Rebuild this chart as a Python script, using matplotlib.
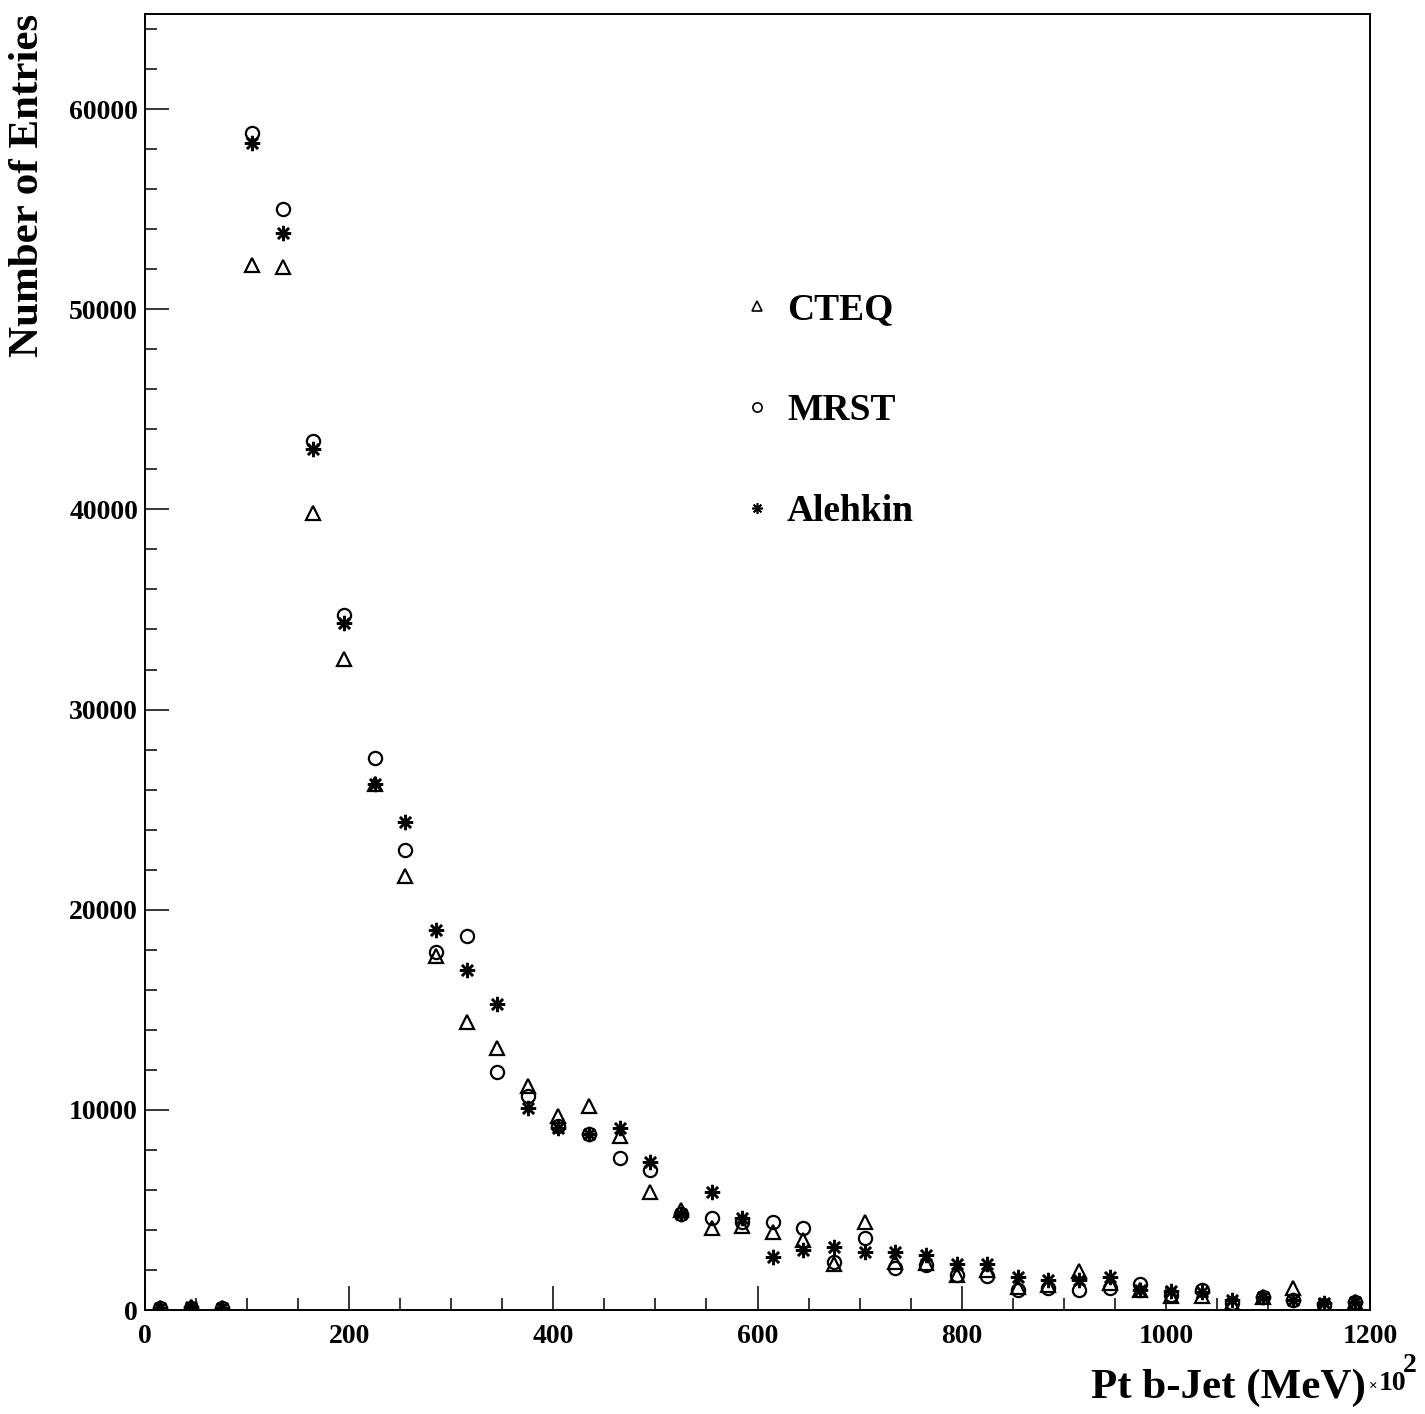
import matplotlib.pyplot as plt
from matplotlib.ticker import MultipleLocator

# Bin centres of the Pt histogram (x 10^2 MeV)
pt_bins = [15, 45, 75, 105, 135, 165, 195, 225, 255, 285,
           315, 345, 375, 405, 435, 465, 495, 525, 555, 585,
           615, 645, 675, 705, 735, 765, 795, 825, 855, 885,
           915, 945, 975, 1005, 1035, 1065, 1095, 1125, 1155, 1185]

cteq = [100, 150, 100, 52200, 52100, 39800, 32500, 26300, 21700, 17700,
        14400, 13100, 11200, 9700, 10200, 8700, 5900, 5000, 4100, 4200,
        3900, 3500, 2300, 4400, 2400, 2350, 1750, 2000, 1150, 1250,
        1950, 1350, 1000, 700, 700, 350, 650, 1100, 250, 400]

mrst = [100, 120, 80, 58800, 55000, 43400, 34700, 27600, 23000, 17900,
        18700, 11900, 10700, 9200, 8800, 7600, 7000, 4800, 4600, 4400,
        4400, 4100, 2400, 3600, 2100, 2250, 1750, 1700, 1000, 1100,
        1000, 1100, 1300, 750, 1000, 350, 650, 500, 250, 400]

alehkin = [80, 150, 80, 58300, 53800, 43000, 34300, 26300, 24400, 19000,
           17000, 15300, 10100, 9100, 8800, 9100, 7400, 4800, 5900, 4600,
           2650, 3000, 3150, 2900, 2900, 2750, 2300, 2300, 1650, 1500,
           1500, 1650, 1000, 950, 900, 500, 650, 500, 350, 400]

plt.rcParams['font.family'] = ['Liberation Serif', 'DejaVu Serif']
plt.rcParams['font.weight'] = 'bold'

fig = plt.figure(figsize=(14.25, 14.14), dpi=100)
ax = fig.add_axes([145 / 1425, 1 - 1310 / 1414, 1225 / 1425, 1296 / 1414])

ax.plot(pt_bins, cteq, linestyle='none', marker='^', markersize=10,
        markerfacecolor='none', markeredgecolor='black', markeredgewidth=1.6, label='CTEQ')
ax.plot(pt_bins, mrst, linestyle='none', marker='o', markersize=9.5,
        markerfacecolor='none', markeredgecolor='black', markeredgewidth=1.6, label='MRST')
ax.plot(pt_bins, alehkin, linestyle='none', marker=(8, 2, 0), markersize=11,
        markeredgecolor='black', markeredgewidth=1.8, label='Alehkin')

ax.set_xlim(0, 1200)
ax.set_ylim(0, 64750)

ax.xaxis.set_major_locator(MultipleLocator(200))
ax.xaxis.set_minor_locator(MultipleLocator(50))
ax.yaxis.set_major_locator(MultipleLocator(10000))
ax.yaxis.set_minor_locator(MultipleLocator(2000))
ax.tick_params(which='both', direction='in', width=1.1, labelsize=20)
ax.tick_params(which='major', length=17)
ax.tick_params(which='minor', length=8.5)
ax.tick_params(axis='y', which='major', pad=5)
ax.tick_params(axis='x', which='major', pad=10)
for lab in ax.get_xticklabels() + ax.get_yticklabels():
    lab.set_fontweight('bold')
for sp in ax.spines.values():
    sp.set_linewidth(1.4)

# axis titles, ROOT style at the end of the axes
fig.text(28 / 1425, 1 - 14 / 1414, 'Number of Entries', rotation=90,
         ha='center', va='top', fontsize=31, fontweight='bold')
fig.text(1366 / 1425, 1 - 1388 / 1414, 'Pt b-Jet (MeV)', ha='right', va='center',
         fontsize=31, fontweight='bold')
fig.text(1373 / 1425, 1 - 1386 / 1414, '\u00d7', ha='center', va='center', fontsize=11)
fig.text(1379 / 1425, 1 - 1384 / 1414, '10', ha='left', va='center',
         fontsize=20, fontweight='bold')
fig.text(1410 / 1425, 1 - 1366 / 1414, '2', ha='center', va='center',
         fontsize=20, fontweight='bold')

leg = ax.legend(loc='upper left', bbox_to_anchor=(597 / 1225, 1 - 278 / 1296),
                frameon=False, fontsize=27, markerscale=0.7, numpoints=1,
                handlelength=0.8, handletextpad=0.4, labelspacing=1.76,
                borderpad=0, borderaxespad=0)
for t in leg.get_texts():
    t.set_fontweight('bold')
for h in leg.legend_handles:
    h.set_markeredgewidth(1.2)

fig.savefig('out.png', dpi=100)
